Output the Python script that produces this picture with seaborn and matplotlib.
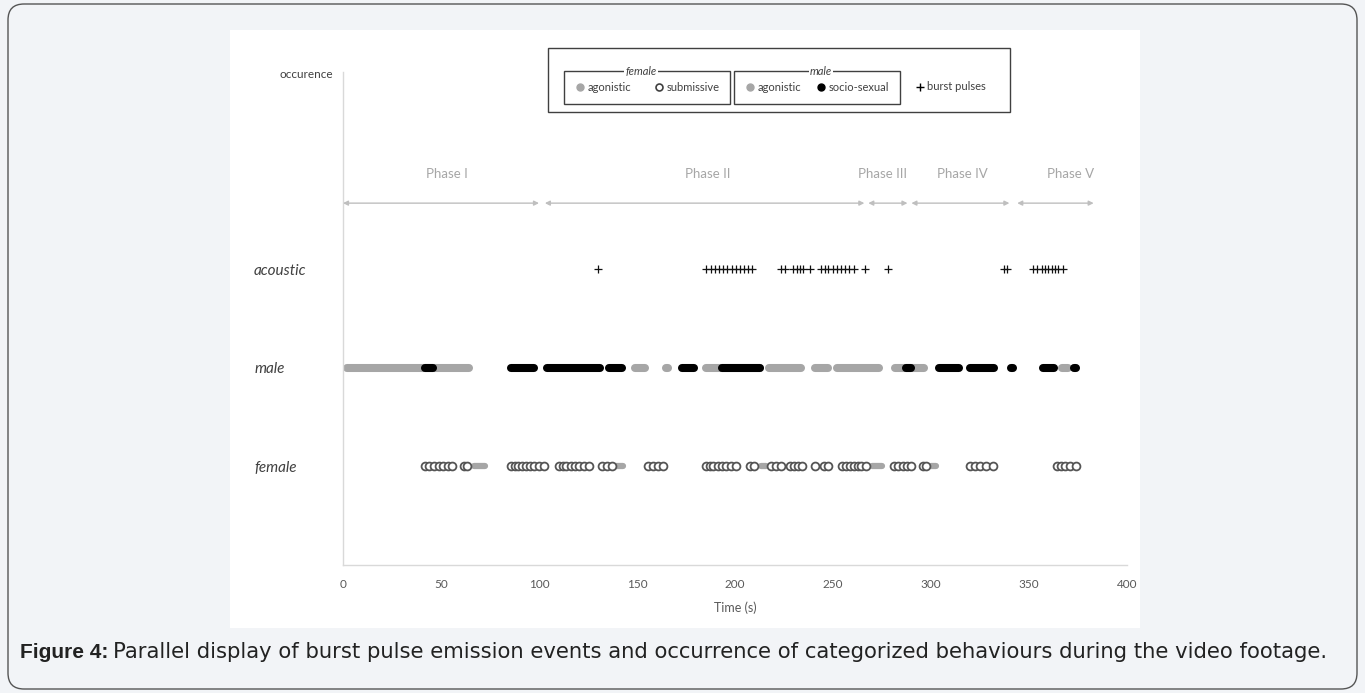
import numpy as np
import pandas as pd
import matplotlib.pyplot as plt
import seaborn as sns
from matplotlib.lines import Line2D
from matplotlib.patches import Rectangle, FancyBboxPatch

sns.set_style("white")
plt.rcParams["font.family"] = ["Lato", "DejaVu Sans"]

# ------------------------------------------------------------
# Data (seconds)
# ------------------------------------------------------------
burst_times = [130,
               185.2, 187.6, 189.8, 192, 194, 196, 198.3, 200.5, 202.6, 204.6, 206.8, 208.5,
               223.5, 225.5, 229.7, 231.5, 233.2, 234.9, 238.3,
               243.7, 245.9, 247.6, 249.9, 252.2, 254, 256.1, 258.3, 260.7,
               266.3, 278,
               337, 338.6,
               351.9, 353.9, 356.5, 358.2, 359.8, 361.6, 363.3, 365, 367.2]

female_submissive = [42, 44, 46.5, 49, 51, 53.5, 55.5,
                     61.5, 63.5,
                     85.5, 87.5, 89.5, 91.5, 93.5, 95.5, 97.5, 100, 102.5,
                     110, 112, 114, 116.5, 118.5, 120.5, 123, 125.5,
                     132, 134.5, 137,
                     155.5, 158, 160.5, 163.5,
                     185, 187, 189, 191.5, 193.5, 195.5, 198, 200.5,
                     207.5, 209.5,
                     218.5, 221, 223.5,
                     228, 230, 232, 234,
                     240.8,
                     245.5, 247.5,
                     254.5, 256.5, 258.5, 260.5, 262.5, 264.5, 267,
                     281, 283, 285.5, 287.5, 290,
                     296, 297.5,
                     320, 322.5, 325, 328, 331.5,
                     364.5, 366.5, 368.5, 371, 374]

female_agonistic_start = [67, 139.5, 213.5, 270, 300]
female_agonistic_end = [72.5, 143, 216, 275, 302.5]

male_agonistic_start = [2, 149, 165, 185, 217.5, 241, 252, 281.5, 367]
male_agonistic_end = [64.5, 154, 166, 213, 233.5, 247.5, 273.5, 296.5, 370]

male_social_start = [42, 85.5, 104, 135.5, 173, 193.5, 287, 304, 320, 341, 357, 373]
male_social_end = [46, 97.5, 131, 142.5, 179, 213, 290, 314.5, 332, 342, 363, 374]

phase_names = ["Phase I", "Phase II", "Phase III", "Phase IV", "Phase V"]
phase_start = [0, 103, 268, 290, 344]
phase_end = [100, 266, 288, 340, 383]
phase_label_x = [53, 186, 275.5, 316, 371]

row_names = ["female", "male", "acoustic"]
row_y = [1, 2, 3]
x_ticks = [0, 50, 100, 150, 200, 250, 300, 350, 400]

GRAY = "#a6a6a6"
BLACK = "#000000"

# ------------------------------------------------------------
# Figure / page background
# ------------------------------------------------------------
W, H = 1365, 693
fig = plt.figure(figsize=(W / 100, H / 100), dpi=100, facecolor="#f2f4f7")

bg = fig.add_axes([0, 0, 1, 1], zorder=-10)
bg.set_xlim(0, W)
bg.set_ylim(H, 0)
bg.axis("off")
bg.add_patch(FancyBboxPatch((8, 4), 1349, 685, boxstyle="round,pad=0,rounding_size=16",
                            facecolor="#f2f4f7", edgecolor="#555555", lw=1))
bg.add_patch(Rectangle((230, 30), 910, 598, facecolor="white", edgecolor="none"))
# legend outer frame
bg.add_patch(Rectangle((548, 48), 462, 64, facecolor="white", edgecolor="#404040", lw=1))

ax = fig.add_axes([343 / W, 1 - 565 / H, 784 / W, 493 / H], zorder=1)
ax.set_facecolor("none")

# ------------------------------------------------------------
# Marks
# ------------------------------------------------------------
df_burst = pd.DataFrame({"time": burst_times, "row": row_y[2]})
df_fem = pd.DataFrame({"time": female_submissive, "row": row_y[0]})

ax.hlines([row_y[1]] * len(male_agonistic_start), male_agonistic_start, male_agonistic_end,
          colors=GRAY, lw=5.8, capstyle="round", clip_on=False, zorder=2)
ax.hlines([row_y[1]] * len(male_social_start), male_social_start, male_social_end,
          colors=BLACK, lw=5.8, capstyle="round", clip_on=False, zorder=3)
ax.hlines([row_y[0]] * len(female_agonistic_start), female_agonistic_start, female_agonistic_end,
          colors=GRAY, lw=4.5, capstyle="round", zorder=2)

sns.scatterplot(data=df_fem, x="time", y="row", ax=ax, color="white", edgecolor="#555555",
                linewidth=1.3, s=32, zorder=4, legend=False)
sns.scatterplot(data=df_burst, x="time", y="row", ax=ax, marker="+", color="#111111",
                linewidth=0.9, s=36, zorder=4, legend=False)

# phases
for name, s0, s1, lx in zip(phase_names, phase_start, phase_end, phase_label_x):
    ax.annotate("", xy=(s1, 3.67), xytext=(s0, 3.67),
                arrowprops=dict(arrowstyle="<|-|>", color="#bfbfbf", lw=1,
                                mutation_scale=7, shrinkA=0, shrinkB=0), annotation_clip=False)
    ax.text(lx, 3.97, name, ha="center", va="center", color="#a6a6a6", fontsize=9.5)

# ------------------------------------------------------------
# Axes styling
# ------------------------------------------------------------
ax.set_xlim(0, 400)
ax.set_ylim(0, 5)
ax.set_xticks(x_ticks)
ax.set_xticklabels([str(t) for t in x_ticks])
ax.set_yticks(row_y)
ax.set_yticklabels(row_names, style="italic", fontsize=11, color="#404040")
for lbl in ax.get_yticklabels():
    lbl.set_ha("left")
ax.tick_params(axis="y", length=0, pad=64)
ax.tick_params(axis="x", length=0, pad=10, labelsize=8.5, labelcolor="#595959")
ax.set_xlabel("Time (s)", fontsize=9, color="#595959", labelpad=8)
ax.set_ylabel("")
for side in ["top", "right"]:
    ax.spines[side].set_visible(False)
for side in ["left", "bottom"]:
    ax.spines[side].set_color("#d9d9d9")
    ax.spines[side].set_linewidth(1)
ax.text(-0.013, 4.97, "occurence", transform=ax.get_yaxis_transform(), ha="right", va="center",
        fontsize=8.5, color="#404040")

# ------------------------------------------------------------
# Legend
# ------------------------------------------------------------
def px_box(x0, y0, x1, y1):
    return (x0 / W, 1 - y1 / H, (x1 - x0) / W, (y1 - y0) / H)

fem_handles = [Line2D([], [], ls="", marker="o", ms=5, color=GRAY),
               Line2D([], [], ls="", marker="o", ms=5, mfc="white", mec="#404040", mew=1.2)]
male_handles = [Line2D([], [], ls="", marker="o", ms=5, color=GRAY),
                Line2D([], [], ls="", marker="o", ms=5, color=BLACK)]
burst_handles = [Line2D([], [], ls="", marker="+", ms=6, mew=1.0, color=BLACK)]

leg_kw = dict(loc="center", mode="expand", ncol=2, fontsize=8, frameon=True, fancybox=False,
              edgecolor="#404040", framealpha=1, borderpad=0.95, handletextpad=0.2,
              handlelength=1, borderaxespad=0, labelcolor="#404040")
leg_f = fig.legend(fem_handles, ["agonistic", "submissive"],
                   bbox_to_anchor=px_box(564, 72, 730, 103), **leg_kw)
leg_m = fig.legend(male_handles, ["agonistic", "socio-sexual"],
                   bbox_to_anchor=px_box(734, 72, 900, 103), **leg_kw)
leg_b = fig.legend(burst_handles, ["burst pulses"], loc="center", fontsize=8, frameon=False,
                   handletextpad=0.2, handlelength=1, labelcolor="#404040",
                   bbox_to_anchor=(950 / W, 1 - 87 / H))
for lg in (leg_f, leg_m):
    lg.get_frame().set_linewidth(1)

fig.canvas.draw()
for lg, title, dx in ((leg_f, "female", -6), (leg_m, "male", 4)):
    bb = lg.get_window_extent()
    fig.text(((bb.x0 + bb.x1) / 2 + dx) / W, bb.y1 / H, title, ha="center", va="center",
             style="italic", fontsize=8, color="#404040", zorder=20,
             bbox=dict(facecolor="white", edgecolor="none", pad=0.8))

# ------------------------------------------------------------
# Caption
# ------------------------------------------------------------
t1 = bg.text(20, 652, "Figure 4:", fontsize=15, fontweight="bold",
             family=["Liberation Sans", "DejaVu Sans"], ha="left", va="center", color="#222222")
fig.canvas.draw()
bb = t1.get_window_extent()
xend = bg.transData.inverted().transform((bb.x1, bb.y0))[0]
bg.text(xend + 5, 652, "Parallel display of burst pulse emission events and occurrence of "
        "categorized behaviours during the video footage.", fontsize=15.2,
        family=["DejaVu Sans"], ha="left", va="center", color="#222222")

fig.savefig("out.png", dpi=100, facecolor=fig.get_facecolor())
